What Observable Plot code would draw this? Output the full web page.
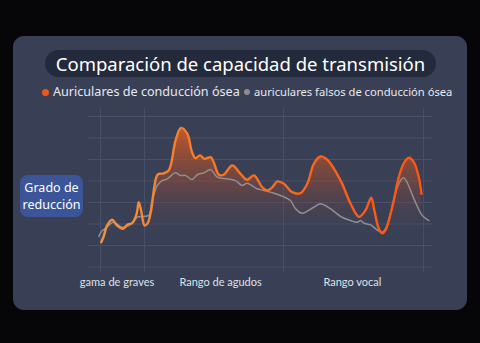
<!DOCTYPE html>
<html>
<head>
<meta charset="utf-8">
<script src="https://cdn.jsdelivr.net/npm/d3@7"></script>
<script src="https://cdn.jsdelivr.net/npm/@observablehq/plot@0.6"></script>
<style>
  html, body { margin: 0; padding: 0; background: #060608; width: 480px; height: 343px; overflow: hidden; font-family: "Noto Sans", "Open Sans", sans-serif; }
  #card { position: absolute; left: 13px; top: 36px; width: 454px; height: 274px; background: #394056; border-radius: 11px; }
  #title { position: absolute; left: 45px; top: 50px; width: 391px; height: 27px; background: #232a3b; border-radius: 14px; color: #fff; font-size: 18.5px; line-height: 27px; text-align: center; white-space: nowrap; }
  #legend { position: absolute; top: 83px; left: 0; width: 480px; height: 18px; color: #e6e8ee; white-space: nowrap; }
  .lg { position: absolute; top: 0; line-height: 18px; }
  .dot { position: absolute; border-radius: 50%; }
  #ylab { position: absolute; left: 20px; top: 175px; width: 63px; height: 42px; background: #3b5598; border-radius: 8px; color: #fff; font-size: 12.5px; line-height: 17px; text-align: center; padding-top: 4px; box-sizing: border-box; }
  #chart { position: absolute; left: 0; top: 0; }
</style>
</head>
<body>
<div id="card"></div>
<div id="title">Comparación de capacidad de transmisión</div>
<div id="legend">
  <div class="dot" style="left:41.5px;top:5.5px;width:7px;height:7px;background:#f0561c"></div>
  <div class="lg" id="lg1" style="left:53px;font-size:12.6px">Auriculares de conducción ósea</div>
  <div class="dot" style="left:244px;top:6px;width:6px;height:6px;background:#8c8c94"></div>
  <div class="lg" id="lg2" style="left:254px;font-size:11.2px">auriculares falsos de conducción ósea</div>
</div>
<div id="ylab">Grado de<br>reducción</div>
<div id="chart"></div>
<script>
// ---- data ----
const seriesNames = ["Auriculares de conducción ósea", "auriculares falsos de conducción ósea"];
const yLabel = "Grado de reducción";
const bandLabels = ["gama de graves", "Rango de agudos", "Rango vocal"];
const bandCenters = [8.3, 38.4, 76.7];
const bandEdges = [3.5, 16.3, 56.7, 97.4];
const yGrid = [0, 1, 2, 3, 4, 5, 6, 7];

const boneX = [3.7,4.4,5.4,6.9,8.3,10.0,11.4,12.7,14.0,14.6,15.3,16.3,17.2,18.2,19.2,20.1,21.9,23.3,24.1,25.3,26.9,28.7,30.1,31.1,32.4,33.7,35.5,36.4,37.9,39.3,41.8,44.2,46.1,48.1,50.5,51.9,53.4,54.9,56.8,59.2,61.6,63.6,65.5,67.4,69.4,73.3,76.2,78.6,80.5,82.2,83.1,84.4,85.4,86.3,88.3,90.2,91.7,93.1,94.6,96.0,96.8];
const boneY = [1.15,1.42,1.93,2.20,1.93,1.78,1.98,2.04,2.47,3.01,2.63,1.93,2.04,2.63,3.79,4.30,4.36,4.49,4.86,5.88,6.47,6.20,5.34,5.06,5.19,5.03,5.11,4.87,4.29,4.29,4.72,4.33,4.06,4.26,3.71,3.56,3.70,3.98,3.87,3.48,3.43,3.87,4.80,5.14,4.99,4.02,2.94,2.33,2.63,3.22,2.63,1.78,1.57,1.70,2.78,4.18,4.83,5.08,4.87,4.18,3.40];

const fakeX = [3.0,4.0,4.9,7.2,9.8,11.7,13.2,14.2,16.1,17.5,18.5,20.0,21.4,22.9,25.3,26.7,28.2,30.1,31.6,33.5,35.5,37.4,40.3,42.7,44.7,46.1,49.0,51.0,53.9,56.8,58.7,60.2,62.1,65.5,67.4,70.3,73.3,76.2,78.1,79.1,80.0,82.0,83.9,85.4,86.8,88.7,90.2,91.5,92.6,94.6,97.0,98.9];
const fakeY = [1.42,1.70,1.78,2.08,1.85,1.93,2.12,2.32,2.35,2.40,3.09,3.79,4.02,4.10,4.38,4.26,4.26,4.07,4.29,4.38,4.53,4.18,4.10,4.02,3.79,3.90,3.64,3.56,3.43,3.26,3.09,2.71,2.50,2.78,2.94,2.71,2.35,2.16,2.08,2.16,2.04,1.96,1.72,1.62,1.93,3.09,3.87,4.15,3.94,3.17,2.40,2.16];

const bone = boneX.map((x, i) => ({x, y: boneY[i]}));
const fake = fakeX.map((x, i) => ({x, y: fakeY[i]}));

const chart = Plot.plot({
  width: 480,
  height: 343,
  marginLeft: 88,
  marginRight: 48,
  marginTop: 116,
  marginBottom: 76.5,
  style: { background: "transparent", overflow: "visible", fontFamily: "Lato, 'Noto Sans', sans-serif" },
  x: { domain: [0, 100], axis: null, label: null },
  y: { domain: [0, 7], axis: null, label: null },
  marks: [
    Plot.ruleY(yGrid, { x1: 0, x2: 100, stroke: "#48506a", strokeWidth: 1 }),
    Plot.ruleX(bandEdges, { y1: -0.26, y2: 7.37, stroke: "#48506a", strokeWidth: 1 }),
    Plot.areaY(bone, { x: "x", y: "y", curve: "catmull-rom", fill: "url(#boneFill)" }),
    Plot.line(fake, { x: "x", y: "y", curve: "catmull-rom", stroke: "#8e8e96", strokeWidth: 1.5 }),
    Plot.line(bone, { x: "x", y: "y", curve: "catmull-rom", stroke: "url(#boneStroke)", strokeWidth: 2.4 }),
    Plot.axisX(bandCenters, { label: null, tickSize: 0, tickPadding: 11.5, fontSize: 11, fill: "#dde0e8", tickFormat: (d, i) => bandLabels[i] })
  ]
});

const ys = chart.scale("y");
const xs = chart.scale("x");
const svg = d3.select(chart);
const defs = svg.insert("defs", ":first-child");
const fg = defs.append("linearGradient").attr("id", "boneFill").attr("gradientUnits", "userSpaceOnUse")
  .attr("x1", 0).attr("x2", 0).attr("y1", ys.apply(6.6)).attr("y2", ys.apply(1.2));
fg.append("stop").attr("offset", 0).attr("stop-color", "#e0601e").attr("stop-opacity", 0.85);
fg.append("stop").attr("offset", 0.5).attr("stop-color", "#a04a30").attr("stop-opacity", 0.45);
fg.append("stop").attr("offset", 1).attr("stop-color", "#394056").attr("stop-opacity", 0);
const sg = defs.append("linearGradient").attr("id", "boneStroke").attr("gradientUnits", "userSpaceOnUse")
  .attr("y1", 0).attr("y2", 0).attr("x1", xs.apply(3)).attr("x2", xs.apply(97));
sg.append("stop").attr("offset", 0).attr("stop-color", "#f2923e");
sg.append("stop").attr("offset", 0.45).attr("stop-color", "#f8701e");
sg.append("stop").attr("offset", 1).attr("stop-color", "#ff5212");

document.getElementById("chart").appendChild(chart);
</script>
</body>
</html>
